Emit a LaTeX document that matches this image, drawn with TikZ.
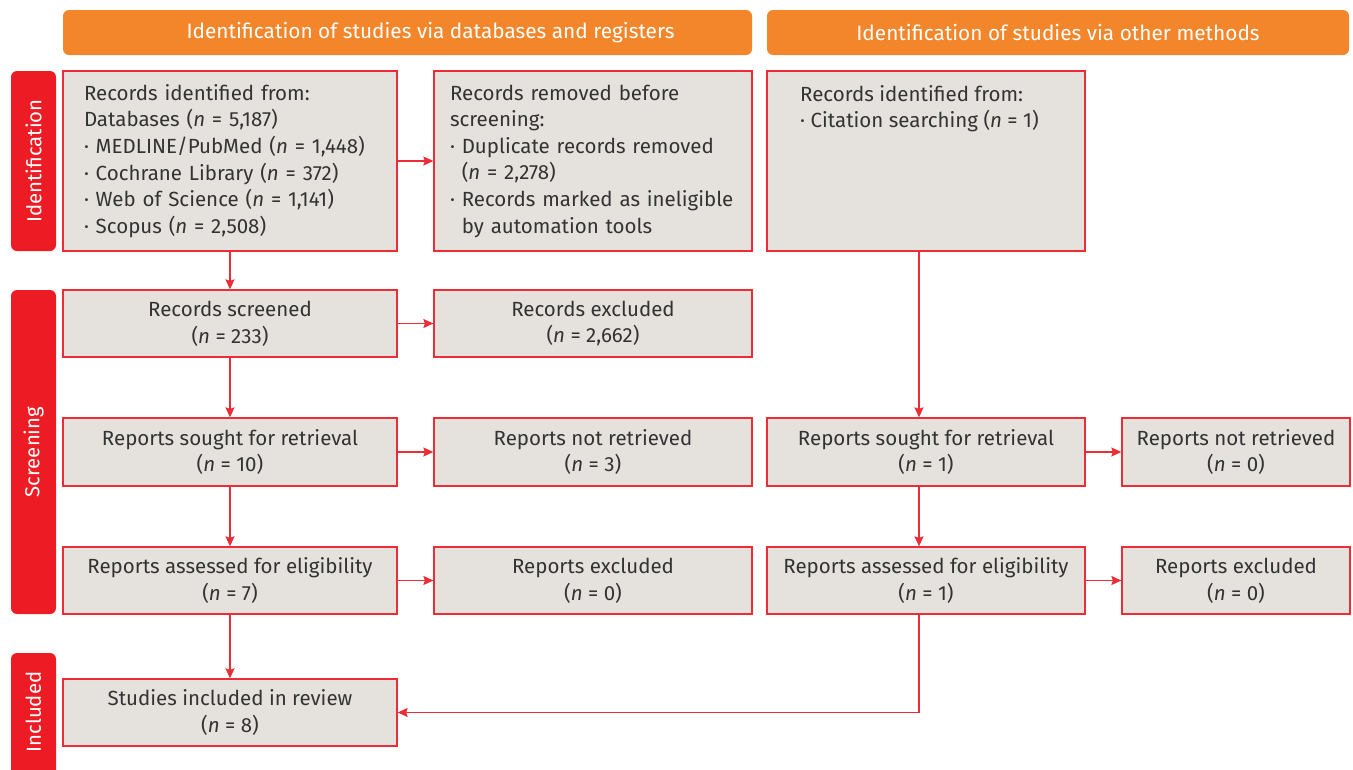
\documentclass[tikz,border=0pt]{standalone}
\usepackage{fontspec}
\setmainfont{Fira Sans}
\usetikzlibrary{arrows.meta}
\definecolor{hdr}{HTML}{F3862A}
\definecolor{lbl}{HTML}{ED1C24}
\definecolor{bord}{HTML}{EC2C37}
\definecolor{fillc}{HTML}{E5E1DD}
\definecolor{txt}{HTML}{333333}
\newcommand{\nn}{\textit{n}}
\begin{document}
\begin{tikzpicture}[x=1pt,y=-1pt,
  box/.style={draw=bord, fill=fillc, line width=1.3pt, text=txt,
    font=\fontsize{20.5}{26.6}\selectfont, align=center, inner sep=0pt},
  hdrbox/.style={fill=hdr, rounded corners=6pt, inner sep=0pt},
  hdrtext/.style={text=white, font=\fontsize{20.8}{24}\selectfont, inner sep=0pt},
  side/.style={fill=lbl, rounded corners=6pt, inner sep=0pt},
  sidetext/.style={text=white, font=\fontsize{20.3}{24}\selectfont, rotate=90, inner sep=0pt},
  arr/.style={draw=bord, line width=1.3pt, -{Stealth[length=10pt,width=9pt,inset=1.5pt]}}]
\useasboundingbox (0,0) rectangle (1353,769);
\clip (0,0) rectangle (1353,769);
% headers
\node[hdrbox, minimum width=689pt, minimum height=45pt] (h1) at (407.5,32.5) {};
\node[hdrtext] (h1t) at (430.5,32.5) {Identification of studies via databases and registers};
\node[hdrbox, minimum width=582pt, minimum height=45pt] (h2) at (1058,32.5) {};
\node[hdrtext] (h2t) at (1058,32.5) {Identification of studies via other methods};
% side labels
\node[side, minimum width=45pt, minimum height=180pt] (s1) at (33.5,161) {};
\node[sidetext] (s1t) at (33.5,161) {Identification};
\node[side, minimum width=45pt, minimum height=324pt] (s2) at (33.5,452) {};
\node[sidetext] (s2t) at (33.5,452) {Screening};
\node[side, minimum width=45pt, minimum height=140pt] (s3) at (33.5,723) {};
\node[sidetext] (s3t) at (33.5,712) {Included};
% left column
\node[box, align=left, text width=292pt, inner xsep=21pt, minimum width=334pt, minimum height=180pt] (A) at (230,161)
 {Records identified from:\\
  Databases (\nn{} = 5,187)\\
  · MEDLINE/PubMed (\nn{} = 1,448)\\
  · Cochrane Library (\nn{} = 372)\\
  · Web of Science (\nn{} = 1,141)\\
  · Scopus (\nn{} = 2,508)};
\node[box, align=left, text width=286pt, inner xsep=16pt, minimum width=318pt, minimum height=180pt] (B) at (593,161)
 {Records removed before\\
  screening:\\
  · Duplicate records removed\\
  \phantom{· }(\nn{} = 2,278)\\
  · Records marked as ineligible\\
  \phantom{· }by automation tools};
\node[box, minimum width=318pt, minimum height=180pt] (C) at (926,161) {};
\node[text=txt, font=\fontsize{20.5}{26.6}\selectfont, align=left, anchor=north west, inner sep=0pt] (Ct) at (800,85)
 {Records identified from:\\
  · Citation searching (\nn{} = 1)};
\node[box, minimum width=334pt, minimum height=67pt] (D) at (230,323.5) {Records screened\\(\nn{} = 233)};
\node[box, minimum width=318pt, minimum height=67pt] (E) at (593,323.5) {Records excluded\\(\nn{} = 2,662)};
\node[box, minimum width=334pt, minimum height=68pt] (F) at (230,452) {Reports sought for retrieval\\(\nn{} = 10)};
\node[box, minimum width=318pt, minimum height=68pt] (G) at (593,452) {Reports not retrieved\\(\nn{} = 3)};
\node[box, minimum width=318pt, minimum height=68pt] (H) at (926,452) {Reports sought for retrieval\\(\nn{} = 1)};
\node[box, minimum width=228pt, minimum height=68pt] (I) at (1236,452) {Reports not retrieved\\(\nn{} = 0)};
\node[box, minimum width=334pt, minimum height=67pt] (J) at (230,580.5) {Reports assessed for eligibility\\(\nn{} = 7)};
\node[box, minimum width=318pt, minimum height=67pt] (K) at (593,580.5) {Reports excluded\\(\nn{} = 0)};
\node[box, minimum width=318pt, minimum height=67pt] (L) at (926,580.5) {Reports assessed for eligibility\\(\nn{} = 1)};
\node[box, minimum width=228pt, minimum height=67pt] (M) at (1236,580.5) {Reports excluded\\(\nn{} = 0)};
\node[box, minimum width=334pt, minimum height=67pt] (N) at (230,712.5) {Studies included in review\\(\nn{} = 8)};
% connectors
\draw[arr] (A.east) -- (B.west);
\draw[arr] (A.south) -- (D.north);
\draw[arr] (D.east) -- (E.west);
\draw[arr] (D.south) -- (F.north);
\draw[arr] (F.east) -- (G.west);
\draw[arr] (F.south) -- (J.north);
\draw[arr] (J.east) -- (K.west);
\draw[arr] (J.south) -- (N.north);
\draw[arr] ([xshift=-7pt]C.south) -- ([xshift=-7pt]H.north);
\draw[arr] (H.east) -- (I.west);
\draw[arr] ([xshift=-7pt]H.south) -- ([xshift=-7pt]L.north);
\draw[arr] (L.east) -- (M.west);
\draw[arr] ([xshift=-7pt]L.south) |- (N.east);
\end{tikzpicture}
\end{document}
